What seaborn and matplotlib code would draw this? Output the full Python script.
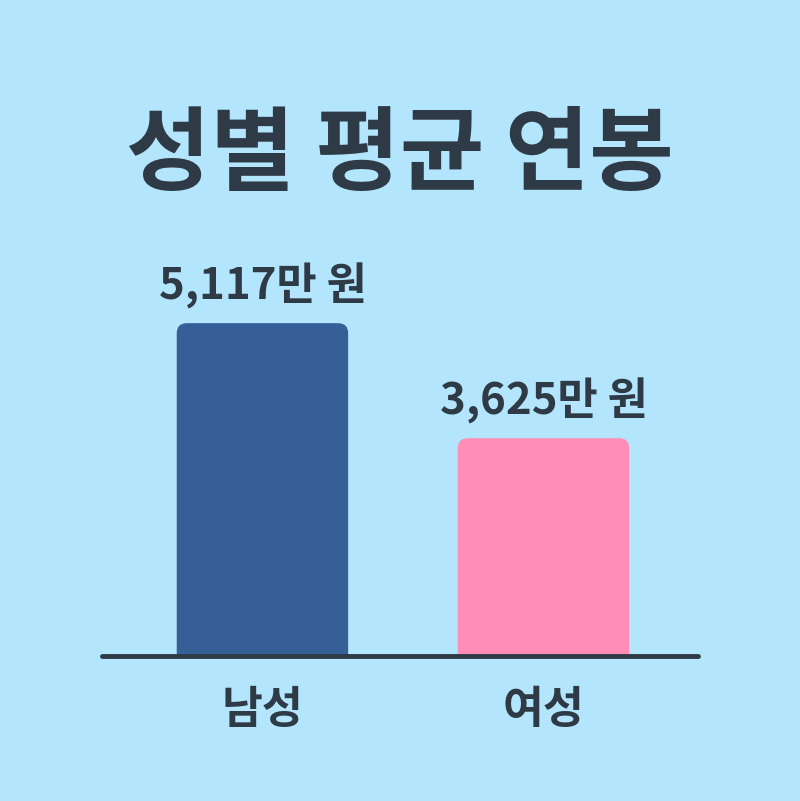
import numpy as np
import pandas as pd
import matplotlib
matplotlib.use("Agg")
import matplotlib.pyplot as plt
import seaborn as sns
from matplotlib.patches import FancyBboxPatch

# ── Data ────────────────────────────────────────────────────────────────
genders  = ["남성", "여성"]
salaries = [5117, 3625]          # 만원
colours  = ["#365F97", "#FF8DB6"]

BG   = "#B3E5FC"
DARK = "#2E3A45"

sns.set_theme(style="white")
plt.rcParams["font.family"] = ["Noto Sans CJK KR", "DejaVu Sans"]

df = pd.DataFrame({"gender": genders, "salary": salaries})

fig = plt.figure(figsize=(8, 8.01), dpi=100, facecolor=BG)
ax = fig.add_axes([0.1275, 0.181, 0.745, 0.694])
ax.set_facecolor(BG)

sns.barplot(data=df, x="gender", y="salary", hue="gender", palette=colours,
            width=0.61, saturation=1, legend=False, ax=ax)

ax.set_xlim(-0.571, 1.55)
ax.set_ylim(800, 8010)

# swap square bars for rounded ones
x_per_px = 1 / 281
y_per_px = 12.97
for p in list(ax.patches):
    x0, w, h = p.get_x(), p.get_width(), p.get_height()
    c = p.get_facecolor()
    p.remove()
    rb = FancyBboxPatch((x0, 0), w, h, boxstyle=f"round,pad=0,rounding_size={10 * x_per_px}",
                        mutation_aspect=y_per_px / x_per_px, facecolor=c,
                        edgecolor="none", zorder=2)
    ax.add_patch(rb)

for i, v in enumerate(salaries):
    ax.text(i, v + 14 * y_per_px, f"{v:,}만 원", ha="center", va="bottom",
            fontsize=31.5, fontweight="bold", color=DARK)

ax.axhline(800, color=DARK, linewidth=3.5, solid_capstyle="round", zorder=3,
           clip_on=False)

ax.set_xlabel("")
ax.set_ylabel("")
ax.set_yticks([])
ax.tick_params(axis="x", length=0, pad=22)
for lbl in ax.get_xticklabels():
    lbl.set_fontsize(32)
    lbl.set_fontweight("bold")
    lbl.set_color(DARK)
sns.despine(ax=ax, left=True, bottom=True)

fig.text(0.5, 0.805, "성별 평균 연봉", ha="center", va="center",
         fontsize=66, fontweight="bold", color=DARK)

fig.savefig("out.png", dpi=100, facecolor=BG)
